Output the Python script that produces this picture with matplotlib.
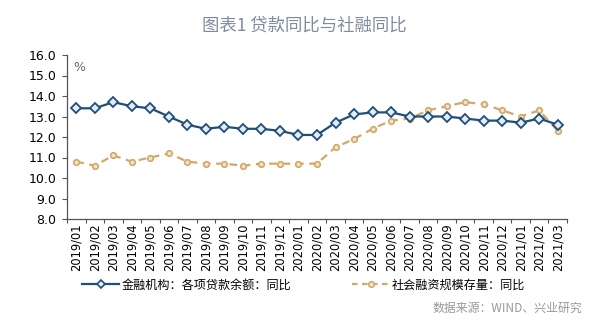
import matplotlib
matplotlib.use("Agg")
import matplotlib.pyplot as plt
from matplotlib.lines import Line2D
from matplotlib.ticker import FixedLocator, NullFormatter

plt.rcParams['font.family'] = ['DejaVu Sans', 'Noto Sans CJK SC']

months = ["2019/01", "2019/02", "2019/03", "2019/04", "2019/05", "2019/06",
          "2019/07", "2019/08", "2019/09", "2019/10", "2019/11", "2019/12",
          "2020/01", "2020/02", "2020/03", "2020/04", "2020/05", "2020/06",
          "2020/07", "2020/08", "2020/09", "2020/10", "2020/11", "2020/12",
          "2021/01", "2021/02", "2021/03"]
loans_yoy = [13.4, 13.4, 13.7, 13.5, 13.4, 13.0, 12.6, 12.4, 12.5, 12.4, 12.4, 12.3,
             12.1, 12.1, 12.7, 13.1, 13.2, 13.2, 13.0, 13.0, 13.0, 12.9, 12.8, 12.8,
             12.7, 12.9, 12.6]
tsf_yoy = [10.8, 10.6, 11.1, 10.8, 11.0, 11.2, 10.8, 10.7, 10.7, 10.6, 10.7, 10.7,
           10.7, 10.7, 11.5, 11.9, 12.4, 12.8, 12.9, 13.3, 13.5, 13.7, 13.6, 13.3,
           13.0, 13.3, 12.3]
yticks = [8.0, 9.0, 10.0, 11.0, 12.0, 13.0, 14.0, 15.0, 16.0]

label_loans = "金融机构：各项贷款余额：同比"
label_tsf = "社会融资规模存量：同比"
title = "图表1 贷款同比与社融同比"
source = "数据来源：WIND、兴业研究"

blue = '#1F4E79'
gold = '#D2A86A'
cjk = ['Noto Sans CJK SC', 'DejaVu Sans']

W, H = 602, 321
fig = plt.figure(figsize=(W / 100, H / 100), dpi=100)
ax = fig.add_axes([67 / W, 1 - 219 / H, 500 / W, 164 / H])

x = list(range(len(months)))
ax.plot(x, loans_yoy, color=blue, lw=1.6, marker='D', ms=4.8,
        mfc='#E3EBF3', mec=blue, mew=1.3, zorder=3)
ax.plot(x, tsf_yoy, color=gold, lw=1.6, ls=(0, (3.5, 2.5)), marker='o', ms=4,
        mfc='#F3E3C6', mec=gold, mew=1.2, zorder=2)

ax.set_xlim(-0.5, len(months) - 0.5)
ax.set_ylim(8, 16)
ax.set_yticks(yticks)
ax.set_yticklabels([f"{v:.1f}" for v in yticks], fontsize=9)
ax.set_xticks(x)
ax.set_xticklabels(months, rotation=90, fontsize=8.3)
ax.tick_params(axis='x', which='major', length=0, pad=3)
ax.xaxis.set_minor_locator(FixedLocator([i - 0.5 for i in range(len(months) + 1)]))
ax.xaxis.set_minor_formatter(NullFormatter())
ax.tick_params(axis='x', which='minor', length=3, width=0.8, color='#555555')
ax.tick_params(axis='y', length=3.5, width=0.8, color='#555555', pad=4)
for s in ['top', 'right']:
    ax.spines[s].set_visible(False)
for s in ['left', 'bottom']:
    ax.spines[s].set_color('#555555')
    ax.spines[s].set_linewidth(0.9)

ax.text(0.012, 0.965, "%", transform=ax.transAxes, fontsize=9, color='#666666',
        ha='left', va='top')

fig.text(304 / W, 1 - 26 / H, title, ha='center', va='center', fontsize=12.5,
         color='#7F8C9D', family=cjk)

h1 = Line2D([], [], color=blue, lw=1.6, marker='D', ms=4.5, mfc='#E3EBF3', mec=blue, mew=1.2)
h2 = Line2D([], [], color=gold, lw=1.6, ls=(0, (2.5, 2)), marker='o', ms=4,
            mfc='#F3E3C6', mec=gold, mew=1.1)
leg_kw = dict(frameon=False, borderpad=0, borderaxespad=0, handlelength=3.1,
              handletextpad=0.2, prop={'family': cjk, 'size': 8.7}, loc='center left')
fig.legend([h1], [label_loans], bbox_to_anchor=(82 / W, 1 - 285 / H), **leg_kw)
fig.legend([h2], [label_tsf], bbox_to_anchor=(352 / W, 1 - 285 / H), **leg_kw)

fig.text(582 / W, 1 - 308 / H, source, ha='right', va='center', fontsize=8.6,
         color='#999999', family=cjk)

fig.savefig("out.png", dpi=100)
